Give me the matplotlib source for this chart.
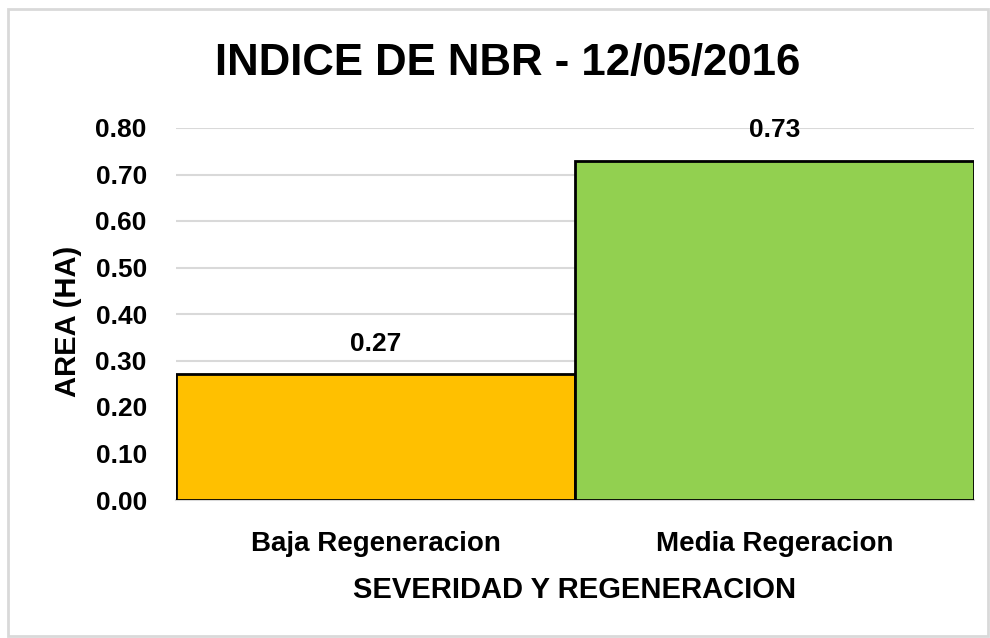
import matplotlib.pyplot as plt
from matplotlib.patches import Rectangle

plt.rcParams['font.family'] = ['Liberation Sans', 'DejaVu Sans']
plt.rcParams['font.weight'] = 'bold'

categories = ['Baja Regeneracion', 'Media Regeracion']
area_ha = [0.27, 0.73]
bar_colors = ['#FFC000', '#92D050']
y_ticks = [0.0, 0.1, 0.2, 0.3, 0.4, 0.5, 0.6, 0.7, 0.8]

fig = plt.figure(figsize=(9.9, 6.38), dpi=100)
ax = fig.add_axes([176 / 990, 1 - 500 / 638, 798 / 990, 372 / 638])

# outer frame of the chart area
fig.patches.append(Rectangle((8 / 990, 2 / 638), 980 / 990, 627 / 638,
                             transform=fig.transFigure, fill=False,
                             edgecolor='#D9D9D9', linewidth=2))

x = range(len(categories))
bars = ax.bar(x, area_ha, width=1.0, color=bar_colors, edgecolor='black',
              linewidth=2, zorder=3)
for b, v in zip(bars, area_ha):
    ax.text(b.get_x() + b.get_width() / 2, v + 0.066, f'{v:.2f}',
            ha='center', va='center', fontsize=19, fontweight='bold')

ax.set_xlim(-0.5, 1.5)
ax.set_ylim(0, 0.8)
ax.set_yticks(y_ticks)
ax.set_yticklabels([f'{t:.2f}' for t in y_ticks])
ax.set_xticks(list(x))
ax.set_xticklabels(categories)
ax.tick_params(axis='both', length=0)
ax.tick_params(axis='y', pad=21, labelsize=19)
ax.tick_params(axis='x', pad=22, labelsize=20)
ax.grid(axis='y', color='#D9D9D9', linewidth=1.5, zorder=0)
for s in ['top', 'right', 'left']:
    ax.spines[s].set_visible(False)
ax.spines['bottom'].set_color('#D9D9D9')
ax.spines['bottom'].set_linewidth(1.5)

ax.set_ylabel('AREA (HA)', fontsize=21, fontweight='bold')
ax.yaxis.set_label_coords(-0.118, 0.48)
ax.set_xlabel('SEVERIDAD Y REGENERACION', fontsize=21, fontweight='bold')
ax.xaxis.set_label_coords(0.5, -0.205)
fig.text(508 / 990, 1 - 64 / 638, 'INDICE DE NBR - 12/05/2016', ha='center',
         va='center', fontsize=31.5, fontweight='bold')

fig.savefig('out.png', dpi=100)
